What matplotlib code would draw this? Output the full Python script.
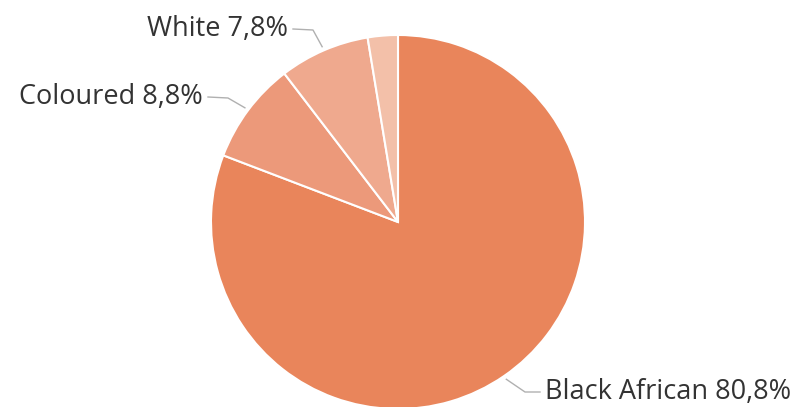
import numpy as np
import matplotlib
matplotlib.use("Agg")
import matplotlib.pyplot as plt

categories = ["Black African", "Coloured", "White", "Indian/Asian"]
values = [80.8, 8.8, 7.8, 2.6]
labels = ["Black African 80,8%", "Coloured 8,8%", "White 7,8%", None]
colors = ["#E9855B", "#EC997A", "#EFA98E", "#F3C0A9"]

W, H = 800, 407
fig = plt.figure(figsize=(W / 100, H / 100), dpi=100)
ax = fig.add_axes([0, 0, 1, 1])
ax.set_xlim(0, W)
ax.set_ylim(0, H)
ax.set_aspect("equal")
ax.axis("off")

cx, cy, r = 398, H - 222, 187
wedges, _ = ax.pie(values, colors=colors, startangle=90, counterclock=False,
                   center=(cx, cy), radius=r, frame=True,
                   wedgeprops=dict(edgecolor="white", linewidth=1.5))
ax.set_xlim(0, W)
ax.set_ylim(0, H)
ax.axis("off")

# label layout: (text x, text y, ha)
layout = {
    0: (545, H - 392, "left"),
    1: (203, H - 97, "right"),
    2: (288, H - 29, "right"),
}
for i, w in enumerate(wedges):
    if labels[i] is None:
        continue
    mid = np.deg2rad((w.theta1 + w.theta2) / 2)
    ex = cx + (r + 4) * np.cos(mid)
    ey = cy + (r + 4) * np.sin(mid)
    tx, ty, ha = layout[i]
    if ha == "right":
        lx0 = tx + 5
        elbow = (lx0 + 20, ty - 1)
    else:
        lx0 = tx - 5
        elbow = (lx0 - 15, ty)
    ax.plot([ex, elbow[0], lx0], [ey, elbow[1], ty], color="#B0B0B0", lw=1)
    ax.text(tx, ty, labels[i], ha=ha, va="center", fontsize=19.5,
            family=["Open Sans", "DejaVu Sans"], color="#333333")

fig.savefig("out.png", dpi=100)
